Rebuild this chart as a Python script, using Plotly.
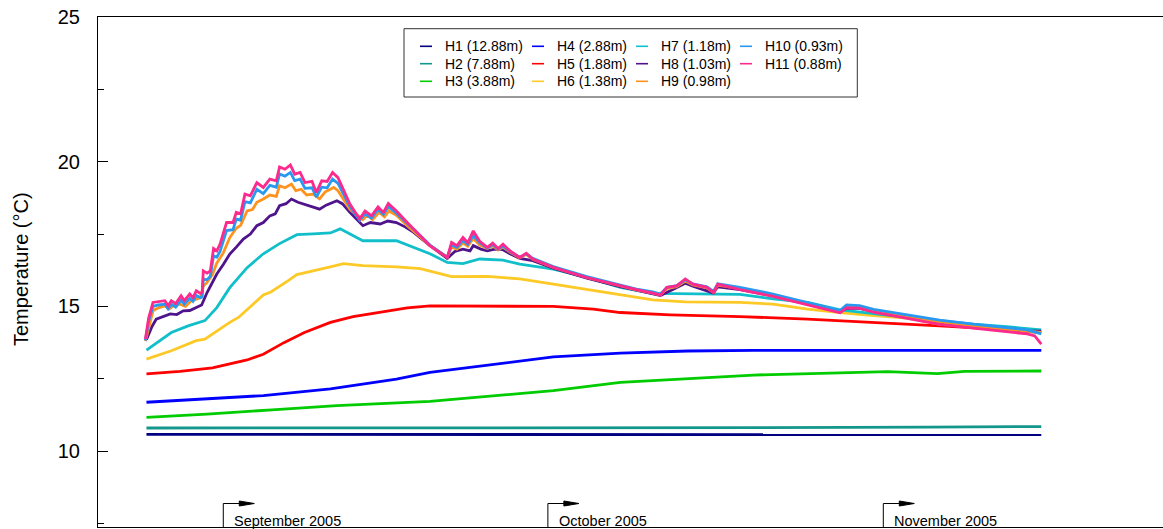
import pandas as pd
import plotly.graph_objects as go

FONT = "Arial, Liberation Sans, sans-serif"
BASE = pd.Timestamp("2005-09-01")

# ---- data: days relative to 1 Sep 2005, temperature in deg C ----
names = ["H1 (12.88m)", "H2 (7.88m)", "H3 (3.88m)", "H4 (2.88m)", "H5 (1.88m)",
         "H6 (1.38m)", "H7 (1.18m)", "H8 (1.03m)", "H9 (0.98m)", "H10 (0.93m)", "H11 (0.88m)"]
colors = ["#000080", "#13968c", "#00cc00", "#0000ff", "#ff0000",
          "#fcc926", "#10bfc9", "#4f148c", "#ff931e", "#2898f0", "#fb2a8c"]

h1_days = [-7.1, 10.0, 30.0, 50.0, 75.6]
h1_vals = [10.58, 10.58, 10.57, 10.57, 10.57]

h2_days = [-7.1, 10.0, 30.0, 50.0, 65.0, 75.6]
h2_vals = [10.80, 10.80, 10.80, 10.81, 10.83, 10.85]

h3_days = [-7.1, -1.5, 4.5, 10.5, 19.1, 25.4, 30.5, 36.7, 42.9, 49.0, 55.2, 61.4, 66.0, 68.5, 75.6]
h3_vals = [11.17, 11.28, 11.43, 11.57, 11.72, 11.92, 12.09, 12.38, 12.51, 12.63, 12.69, 12.75, 12.68, 12.76, 12.77]

h4_days = [-7.1, -2.5, 3.7, 9.9, 16.0, 19.1, 25.4, 30.5, 36.7, 42.9, 49.0, 75.6]
h4_vals = [11.69, 11.78, 11.92, 12.15, 12.49, 12.72, 13.01, 13.26, 13.39, 13.46, 13.48, 13.48]

h5_days = [-7.1, -4.0, -1.0, 0.6, 2.2, 3.7, 5.6, 7.5, 9.9, 12.0, 14.5, 17.0, 19.1, 24.4, 30.5,
           34.2, 36.7, 41.3, 47.75, 54.0, 60.1, 66.2, 72.4, 75.5]
h5_vals = [12.67, 12.76, 12.88, 13.01, 13.15, 13.35, 13.75, 14.10, 14.45, 14.65, 14.79, 14.95,
           15.02, 15.00, 15.00, 14.91, 14.79, 14.71, 14.65, 14.56, 14.45, 14.33, 14.20, 14.10]

h6_days = [-7.1, -4.8, -2.5, -1.7, 0.6, 1.4, 3.7, 4.4, 6.0, 6.8, 9.9, 11.1, 12.9, 16.0, 18.2,
           21.1, 24.4, 27.4, 30.5, 33.6, 36.7, 39.7, 42.7, 47.75, 50.8, 54.0, 57.0, 60.1, 63.2,
           66.2, 72.4, 75.6]
h6_vals = [13.18, 13.47, 13.82, 13.87, 14.45, 14.62, 15.40, 15.50, 15.89, 16.10, 16.37, 16.48,
           16.41, 16.37, 16.31, 16.03, 16.04, 15.95, 15.77, 15.58, 15.40, 15.23, 15.16, 15.14,
           15.08, 14.91, 14.79, 14.68, 14.60, 14.39, 14.22, 14.10]

h7_days = [-7.1, -6.3, -4.8, -3.25, -1.7, -0.6, 0.6, 2.2, 3.7, 5.2, 6.8, 8.3, 9.9, 10.8, 12.9,
           16.0, 18.2, 19.1, 20.7, 22.15, 23.7, 25.85, 27.4, 30.5, 33.6, 36.7, 39.7, 42.7, 45.3,
           47.75, 50.8, 54.0, 57.0, 60.1, 63.2, 66.2, 69.3, 72.4, 75.6]
h7_vals = [13.49, 13.70, 14.10, 14.33, 14.51, 14.96, 15.65, 16.34, 16.82, 17.17, 17.48, 17.51,
           17.54, 17.68, 17.27, 17.27, 16.95, 16.82, 16.52, 16.48, 16.64, 16.60, 16.46, 16.29,
           16.00, 15.66, 15.45, 15.43, 15.43, 15.42, 15.26, 15.14, 14.88, 14.74, 14.62, 14.51,
           14.39, 14.30, 14.19]

h8_days = [-7.1, -6.6, -6.2, -5.5, -4.9, -4.3, -3.7, -3.1, -2.5, -2.0, -1.5, -0.6, 0.0, 0.6,
           1.2, 1.85, 2.5, 3.1, 3.7, 4.3, 4.8, 5.2, 5.8, 6.3, 6.9, 7.4, 8.0, 8.9, 9.5, 10.5, 11.0,
           11.7, 12.9, 13.6, 14.5, 15.2, 16.0, 16.8, 17.6, 19.1, 20.7, 21.4, 22.15, 22.8, 23.1,
           23.8, 24.4, 25.1, 25.85, 26.5, 27.4, 28.6, 30.5, 33.6, 36.7, 39.7, 40.4, 41.5, 42.7,
           43.4, 45.3, 45.7, 47.75, 50.8, 54.0, 57.0, 57.6, 58.8, 60.1, 63.2, 66.2, 69.3, 72.4,
           74.3, 75.6]
h8_vals = [13.85, 14.30, 14.56, 14.65, 14.74, 14.72, 14.85, 14.86, 14.97, 15.05, 15.48, 16.12,
           16.45, 16.81, 17.05, 17.33, 17.50, 17.79, 17.90, 18.13, 18.20, 18.48, 18.55, 18.71,
           18.60, 18.54, 18.45, 18.36, 18.50, 18.65, 18.55, 18.25, 17.79, 17.90, 17.85, 17.95,
           17.90, 17.75, 17.56, 17.10, 16.66, 16.90, 16.98, 16.92, 17.10, 16.98, 16.92, 16.98,
           16.96, 16.82, 16.66, 16.58, 16.32, 15.98, 15.68, 15.44, 15.38, 15.58, 15.80, 15.70,
           15.46, 15.68, 15.58, 15.37, 15.09, 14.81, 14.94, 14.93, 14.83, 14.64, 14.45, 14.32,
           14.20, 14.15, 14.15]

h9_days = [-7.2, -6.8, -6.5, -6.0, -5.4, -5.0, -4.5, -4.0, -3.5, -3.0, -2.5, -2.1, -1.85, -1.5,
           -1.0, -0.6, 0.0, 0.6, 1.2, 1.6, 2.2, 2.7, 3.1, 3.7, 4.3, 4.9, 5.2, 5.7, 6.3, 6.7, 7.2,
           7.7, 8.3, 8.9, 9.4, 10.2, 10.6, 11.7, 12.9, 13.3, 13.8, 14.4, 14.9, 15.3, 16.0, 17.0,
           18.2, 19.1, 20.7, 21.1, 21.6, 22.15, 22.6, 23.1, 23.7, 24.4, 24.9, 25.4, 25.85, 26.5,
           27.4, 28.0, 28.6, 30.5, 33.6, 36.7, 38.2, 39.7, 40.4, 41.0, 41.9, 42.7, 43.4, 44.7,
           45.3, 45.7, 47.75, 50.8, 54.0, 57.0, 57.6, 58.8, 60.1, 63.2, 66.2, 69.3, 72.4, 74.3,
           75.6]
h9_vals = [13.80, 14.40, 14.85, 14.95, 15.02, 14.92, 15.05, 15.08, 15.00, 15.18, 15.26, 15.30,
           15.70, 15.83, 16.10, 16.50, 16.85, 17.38, 17.70, 17.80, 18.30, 18.35, 18.60, 18.71,
           18.85, 18.80, 19.17, 19.10, 19.23, 19.00, 19.05, 18.85, 18.88, 18.72, 18.95, 19.11,
           19.00, 18.36, 18.00, 18.15, 18.00, 18.25, 18.10, 18.30, 18.15, 17.79, 17.40, 17.10,
           16.70, 17.05, 16.98, 17.20, 17.08, 17.35, 17.12, 17.00, 17.10, 16.95, 17.05, 16.88,
           16.68, 16.80, 16.63, 16.35, 16.00, 15.70, 15.57, 15.46, 15.40, 15.62, 15.68, 15.88,
           15.74, 15.64, 15.48, 15.74, 15.62, 15.40, 15.10, 14.82, 14.98, 14.96, 14.84, 14.66,
           14.47, 14.33, 14.22, 14.15, 14.10]

h10_days = [-7.2, -6.9, -6.5, -6.0, -5.4, -5.1, -4.8, -4.4, -3.9, -3.6, -3.1, -2.8, -2.5, -2.1,
            -1.95, -1.85, -1.5, -1.2, -0.9, -0.6, -0.3, 0.3, 0.9, 1.2, 1.6, 2.0, 2.5, 3.1, 3.7,
            4.3, 4.9, 5.2, 5.7, 6.2, 6.6, 7.1, 7.55, 8.2, 8.6, 9.1, 9.6, 10.1, 10.6, 11.7, 12.6,
            13.1, 13.7, 14.3, 14.8, 15.25, 16.0, 17.0, 18.2, 19.1, 20.7, 21.1, 21.6, 22.15, 22.6,
            23.1, 23.7, 24.4, 24.9, 25.4, 25.85, 26.5, 27.4, 28.0, 28.6, 30.5, 33.6, 36.7, 38.2,
            39.7, 40.4, 41.0, 41.9, 42.7, 43.4, 44.7, 45.3, 45.7, 47.75, 50.8, 54.0, 57.0, 57.6,
            58.8, 60.1, 63.2, 66.2, 69.3, 72.4, 74.3, 75.6]
h10_vals = [13.82, 14.50, 15.00, 15.05, 15.08, 14.92, 15.08, 14.98, 15.22, 15.08, 15.28, 15.18,
            15.38, 15.30, 15.33, 15.95, 15.92, 16.05, 16.75, 16.70, 16.90, 17.62, 17.65, 18.02,
            17.98, 18.62, 18.58, 19.05, 18.90, 19.18, 19.12, 19.58, 19.50, 19.63, 19.35, 19.40,
            19.08, 19.10, 18.78, 19.12, 19.10, 19.40, 19.25, 18.45, 17.98, 18.20, 18.05, 18.35,
            18.18, 18.45, 18.22, 17.88, 17.45, 17.12, 16.70, 17.12, 17.04, 17.28, 17.14, 17.45,
            17.20, 17.02, 17.14, 16.98, 17.08, 16.90, 16.70, 16.82, 16.66, 16.38, 16.03, 15.74,
            15.60, 15.50, 15.43, 15.66, 15.72, 15.92, 15.78, 15.68, 15.52, 15.78, 15.66, 15.43,
            15.14, 14.86, 15.05, 15.03, 14.90, 14.71, 14.53, 14.39, 14.25, 14.19, 14.05]

h11_days = [-7.2, -6.9, -6.5, -6.0, -5.4, -5.1, -4.8, -4.4, -3.9, -3.6, -3.1, -2.8, -2.5, -2.1,
            -1.95, -1.85, -1.5, -1.2, -0.9, -0.6, -0.3, 0.3, 0.9, 1.2, 1.6, 2.0, 2.5, 3.1, 3.7,
            4.3, 4.9, 5.2, 5.7, 6.2, 6.6, 7.1, 7.55, 8.2, 8.6, 9.1, 9.6, 10.1, 10.6, 11.7, 12.6,
            13.1, 13.7, 14.3, 14.8, 15.25, 16.0, 17.0, 18.2, 19.1, 20.7, 21.1, 21.6, 22.15, 22.6,
            23.1, 23.7, 24.4, 24.9, 25.4, 25.85, 26.5, 27.4, 28.0, 28.6, 30.5, 33.6, 36.7, 38.2,
            39.7, 40.4, 41.0, 41.9, 42.7, 43.4, 44.7, 45.3, 45.7, 47.75, 50.8, 54.0, 57.0, 57.6,
            58.8, 60.1, 63.2, 66.2, 69.3, 72.4, 74.3, 75.0, 75.3, 75.6]
h11_vals = [13.87, 14.60, 15.14, 15.17, 15.20, 15.02, 15.20, 15.10, 15.37, 15.20, 15.43, 15.30,
            15.54, 15.45, 15.50, 16.23, 16.15, 16.23, 17.00, 16.92, 17.15, 17.90, 17.90, 18.25,
            18.20, 18.88, 18.82, 19.28, 19.11, 19.40, 19.34, 19.82, 19.74, 19.89, 19.57, 19.63,
            19.28, 19.32, 18.94, 19.34, 19.32, 19.63, 19.45, 18.54, 18.02, 18.30, 18.13, 18.44,
            18.25, 18.56, 18.30, 17.90, 17.44, 17.10, 16.69, 17.21, 17.10, 17.38, 17.20, 17.61,
            17.25, 17.04, 17.19, 17.00, 17.15, 16.92, 16.69, 16.84, 16.64, 16.35, 16.00, 15.71,
            15.58, 15.46, 15.39, 15.66, 15.71, 15.95, 15.77, 15.66, 15.48, 15.77, 15.58, 15.35,
            15.05, 14.78, 14.95, 14.94, 14.80, 14.58, 14.38, 14.25, 14.12, 14.05, 13.98, 13.82,
            13.70]

series_days = [h1_days, h2_days, h3_days, h4_days, h5_days, h6_days, h7_days, h8_days,
               h9_days, h10_days, h11_days]
series_vals = [h1_vals, h2_vals, h3_vals, h4_vals, h5_vals, h6_vals, h7_vals, h8_vals,
               h9_vals, h10_vals, h11_vals]

month_starts = ["2005-09-01", "2005-10-01", "2005-11-01"]
month_labels = ["September 2005", "October 2005", "November 2005"]

y_ticks = [10, 15, 20, 25]
y_range = [7.38, 25]
x_range_days = [-11.58, 86.85]

# ---- figure ----
def to_dt(days):
    return BASE + pd.to_timedelta(pd.Series(days, dtype=float), unit="D")

W, H = 1163, 529
ML, MR, MT, MB = 98, 0, 17, 2
PW, PH = W - ML - MR, H - MT - MB

def px_x(p):
    return (p - ML) / PW

def px_y(p):
    return (H - MB - p) / PH

fig = go.Figure()
for i in range(11):
    fig.add_trace(go.Scatter(
        x=to_dt(series_days[i]), y=series_vals[i], mode="lines", name=names[i],
        line=dict(color=colors[i], width=2.8), showlegend=False))

xr = [str(BASE + pd.Timedelta(days=d)) for d in x_range_days]

fig.update_layout(
    width=W, height=H, margin=dict(l=ML, r=MR, t=MT, b=MB, pad=0),
    paper_bgcolor="white", plot_bgcolor="white",
    font=dict(family=FONT, color="black"),
    showlegend=False,
    xaxis=dict(type="date", range=xr, showgrid=False, zeroline=False, showline=True,
               linecolor="black", linewidth=1, mirror=True, ticks="", showticklabels=False),
    yaxis=dict(range=y_range, tickvals=y_ticks, showgrid=False, zeroline=False,
               showline=True, linecolor="black", linewidth=1, mirror=False,
               ticks="inside", ticklen=10, tickcolor="black", tickwidth=1,
               ticklabelstandoff=13,
               tickfont=dict(size=20, family=FONT, color="black"),
               minor=dict(dtick=2.5, tick0=0, ticks="inside", ticklen=6,
                          tickcolor="black", tickwidth=1, showgrid=False)),
)

# y-axis title
fig.add_annotation(text="Temperature (\u00b0C)", xref="paper", yref="paper",
                   x=px_x(21), y=px_y(269), textangle=-90, showarrow=False,
                   xanchor="center", yanchor="middle",
                   font=dict(size=20, family=FONT, color="black"))

# legend: 3 rows x 4 columns, filled column by column
col_text_x = [443, 555, 659, 763]
row_y = [46.3, 63.7, 81.3]
fig.add_shape(type="rect", xref="paper", yref="paper",
              x0=px_x(404), x1=px_x(857.3), y0=px_y(97), y1=px_y(28.7),
              line=dict(color="#333333", width=1), fillcolor="rgba(0,0,0,0)")
for i in range(11):
    c, r = divmod(i, 3)
    tx, ty = col_text_x[c], row_y[r]
    fig.add_shape(type="line", xref="paper", yref="paper",
                  x0=px_x(tx - 23), x1=px_x(tx - 11), y0=px_y(ty), y1=px_y(ty),
                  line=dict(color=colors[i], width=1.6))
    fig.add_annotation(text=names[i], xref="paper", yref="paper", x=px_x(tx), y=px_y(ty),
                       xanchor="left", yanchor="middle", showarrow=False,
                       font=dict(size=14, family=FONT, color="black"))

# month flags
for d, lab in zip(month_starts, month_labels):
    fig.add_shape(type="path", xref="x", yref="paper", xsizemode="pixel", ysizemode="pixel",
                  xanchor=d, yanchor=0, path="M0,0 V23.5 H17",
                  line=dict(color="black", width=1))
    fig.add_shape(type="path", xref="x", yref="paper", xsizemode="pixel", ysizemode="pixel",
                  xanchor=d, yanchor=0, path="M16,26 L31,23.5 L16,21 Z",
                  line=dict(color="black", width=1), fillcolor="black")
    fig.add_annotation(text=lab, x=d, xref="x", yref="paper", y=px_y(520.5),
                       xanchor="left", yanchor="middle", xshift=9, showarrow=False,
                       font=dict(size=14.5, family=FONT, color="black"))

fig.write_html("out.html")
